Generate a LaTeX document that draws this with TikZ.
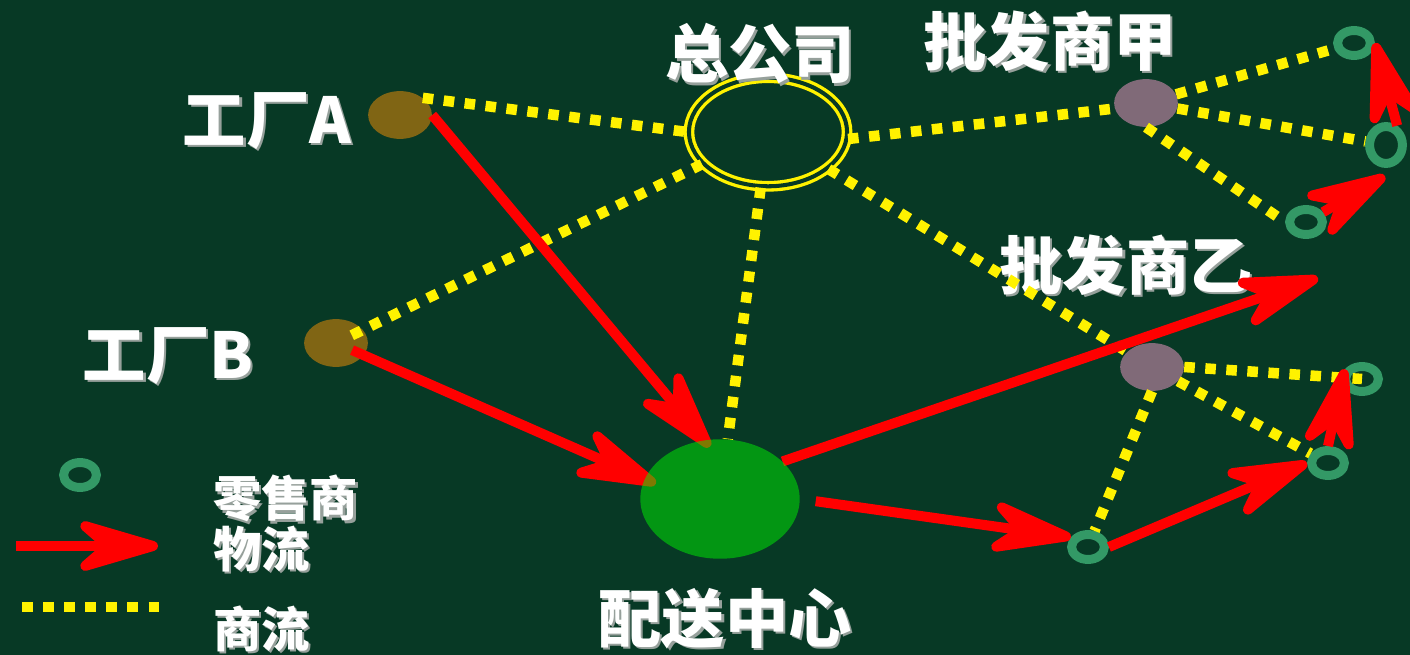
\documentclass[tikz,border=0pt]{standalone}
\usepackage{fontspec}
\newfontfamily\cjk{Noto Sans CJK SC}
\usetikzlibrary{positioning,arrows.meta,shapes.geometric}
\definecolor{board}{RGB}{7,57,37}
\definecolor{factory}{RGB}{128,101,20}
\definecolor{dealer}{RGB}{128,106,120}
\definecolor{shop}{RGB}{51,153,102}
\definecolor{depot}{RGB}{0,243,3}
\definecolor{shade}{RGB}{150,160,155}
\pgfdeclarelayer{back}
\pgfdeclarelayer{front}
\pgfsetlayers{back,main,front}
\newcommand\shtext[1]{\rlap{\hspace{1.3pt}\raisebox{-1.3pt}{\textcolor{shade}{#1}}}#1}
\tikzset{>={Stealth[length=60pt,width=35pt,inset=20pt,round]}}
\tikzset{flow/.style={->, red, line width=5.7pt},
	trade/.style={yellow, line width=6pt, dash pattern=on 6pt off 6pt},
	firm/.style={ellipse, fill=factory, minimum width=36.3pt, minimum height=27.2pt, inner sep=0pt},
	dealerdot/.style={ellipse, fill=dealer, minimum width=36.3pt, minimum height=27.2pt, inner sep=0pt},
	shopring/.style={ellipse, draw=shop, line width=5.1pt, minimum width=18.7pt, minimum height=14.2pt, inner sep=0pt},
	bigtext/.style={text=white, font=\cjk\bfseries\fontsize{36pt}{40pt}\selectfont, inner sep=0pt},
	keytext/.style={text=white, font=\cjk\bfseries\fontsize{27.5pt}{30pt}\selectfont, inner sep=0pt, anchor=west}}

\begin{document}
\begin{tikzpicture}[x=0.02cm, y=-0.02cm]
	\useasboundingbox (0,0) rectangle (1410,655);
	\begin{pgfonlayer}{back}
		\fill[board] (0,0) rectangle (1410,655);
	\end{pgfonlayer}
	
	\node[firm] (fa) at (400,115) {};
	\node[firm] (fb) at (336,343) {};
	\node[ellipse, draw=yellow, double=board, double distance=2.3pt, line width=1.9pt,
		minimum width=90pt, minimum height=61.8pt, inner sep=0pt] (hq) at (768,132) {};
	\node[dealerdot] (wa) at (1146,103) {};
	\node[dealerdot] (wb) at (1152,367) {};
	\begin{pgfonlayer}{front}
		\node[ellipse, fill=depot, fill opacity=0.5, minimum width=90.7pt, minimum height=68pt, inner sep=0pt] (dc) at (720,499) {};
	\end{pgfonlayer}
	
	\node[shopring] (r1) at (1354,43) {};
	\node[shopring, minimum height=21pt] (r2) at (1386,145) {};
	\node[shopring] (r3) at (1306,222) {};
	\node[shopring] (r4) at (1362,379) {};
	\node[shopring] (r5) at (1328,463) {};
	\node[shopring] (r6) at (1088,547) {};
	\coordinate (wbtip) at (1318,278);
	\coordinate (r2low) at (1385,176);
	
	\node[bigtext] (lfa) at (267,122) {\shtext{工厂A}};
	\node[bigtext] (lfb) at (168,357) {\shtext{工厂B}};
	\node[bigtext] (lhq) at (760,55) {\shtext{总公司}};
	\node[bigtext] (lwa) at (1050,42) {\shtext{批发商甲}};
	\node[bigtext] (lwb) at (1126,266) {\shtext{批发商乙}};
	\node[bigtext] (ldc) at (725,620) {\shtext{配送中心}};
	
	% trade lines
	\draw[trade] (fa.north east) -- (hq.west);
	\draw[trade, shorten <=10pt] (fb.center) -- (hq);
	\draw[trade] (hq) -- (dc);
	\draw[trade] (hq.-5) -- (wa.190);
	\draw[trade] (hq) -- (wb);
	\draw[trade] (wa) -- (r1);
	\draw[trade] (wa) -- (r2);
	\draw[trade] (wa.south) -- (r3.west);
	\draw[trade] (wb.east) -- (r4.center);
	\draw[trade] (wb) -- (r5);
	\draw[trade] (wb.south) -- (r6);
	
	% goods flow
	\draw[flow, shorten >=-5pt] (fa.east) -- (dc.105);
	\draw[flow, shorten <=10pt, shorten >=-7pt] (fb.center) -- (dc.165);
	\draw[flow] (dc.31) -- (wbtip);
	\draw[flow, shorten <=9pt] (dc.east) -- (r6.150);
	\draw[flow] (r6.east) -- (r5.west);
	\draw[flow] (r5.north) -- (r4.150);
	\draw[flow] (r3.30) -- (r2low);
	\draw[flow] (r2.60) -- (r1.east);
	
	% legend
	\node[shopring] (lr) at (80,475) {};
	\coordinate (ka) at (16,546);
	\coordinate (kb) at (158,546);
	\coordinate (kc) at (22,607);
	\coordinate (kd) at (160,607);
	\draw[flow] (ka) -- (kb);
	\draw[trade] (kc) -- (kd);
	\node[keytext] (lshop) at (213,500) {\shtext{零售商}};
	\node[keytext] (lflow) at (213,550) {\shtext{物流}};
	\node[keytext] (ltrade) at (213,630) {\shtext{商流}};
	
	%	\draw[very thin,color=gray] (0,0) grid[step=100] (1410,655);
\end{tikzpicture}
\end{document}
